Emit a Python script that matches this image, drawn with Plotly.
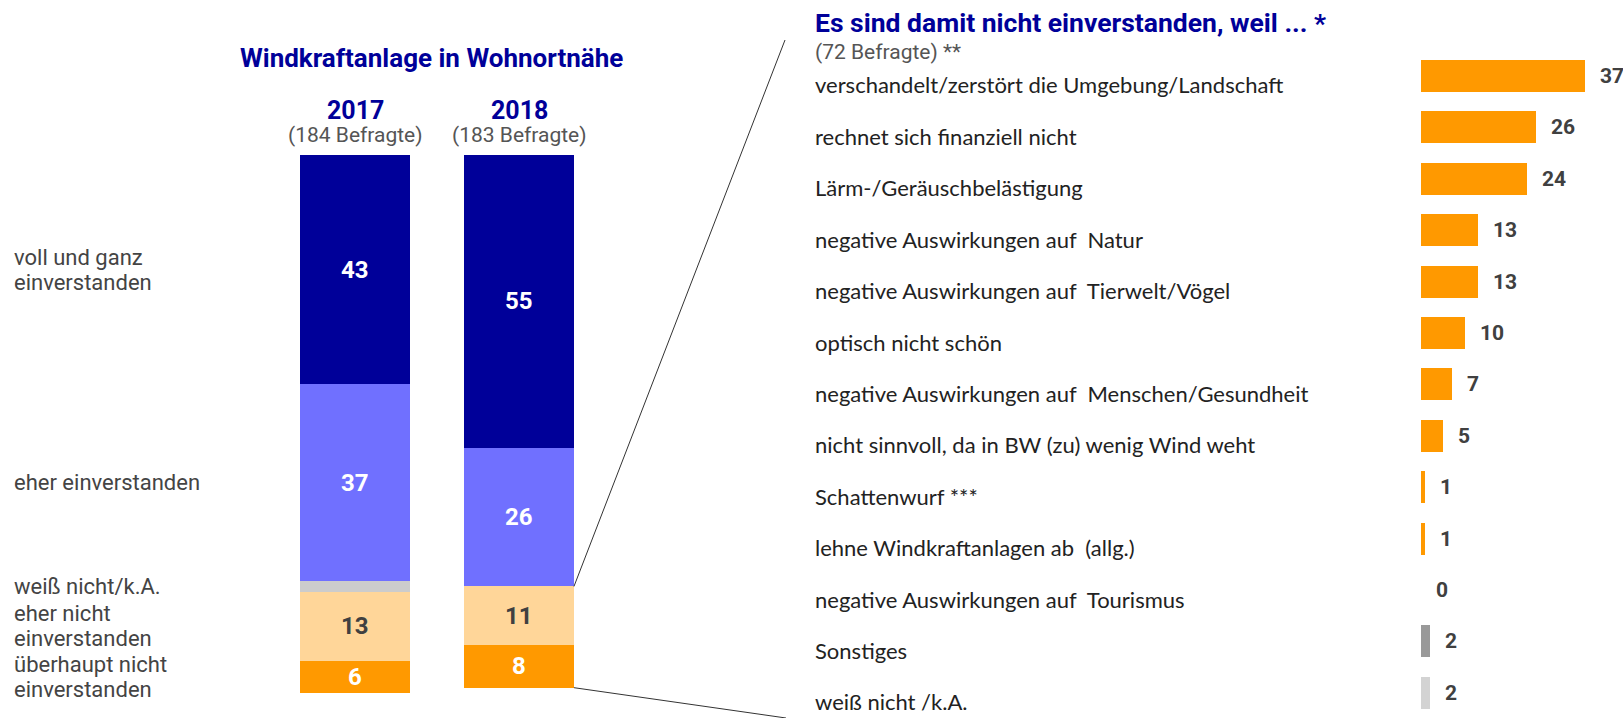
import plotly.graph_objects as go

W, H = 1623, 718

# ---------------- data ----------------
years = ["2017", "2018"]
respondents = ["(184 Befragte)", "(183 Befragte)"]
segment_lines = [
    ["voll und ganz", "einverstanden"],
    ["eher einverstanden"],
    ["weiß nicht/k.A."],
    ["eher nicht", "einverstanden"],
    ["überhaupt nicht", "einverstanden"],
]
values_2017 = [43, 37, 2, 13, 6]
values_2018 = [55, 26, 0, 11, 8]
show_value = [True, True, False, True, True]

reasons = [
    "verschandelt/zerstört die Umgebung/Landschaft",
    "rechnet sich finanziell nicht",
    "Lärm-/Geräuschbelästigung",
    "negative Auswirkungen auf  Natur",
    "negative Auswirkungen auf  Tierwelt/Vögel",
    "optisch nicht schön",
    "negative Auswirkungen auf  Menschen/Gesundheit",
    "nicht sinnvoll, da in BW (zu) wenig Wind weht",
    "Schattenwurf ***",
    "lehne Windkraftanlagen ab  (allg.)",
    "negative Auswirkungen auf  Tourismus",
    "Sonstiges",
    "weiß nicht /k.A.",
]
reason_values = [37, 26, 24, 13, 13, 10, 7, 5, 1, 1, 0, 2, 2]

# ---------------- styles ----------------
seg_colors = ["#000099", "#7070FF", "#CCCCCC", "#FFD699", "#FF9900"]
seg_text_colors = ["#FFFFFF", "#FFFFFF", "#FFFFFF", "#404040", "#FFFFFF"]
reason_colors = ["#FF9900"] * 11 + ["#999999", "#D3D3D3"]
NAVY = "#000099"
DIN = "Roboto"
CAL = "Lato"

# layout geometry (pixels)
LX0, LX1 = 273, 601        # left x-domain
LY0, LY1 = 155, 693        # left y-domain (top, bottom)
LYMAX = 101
RX0, RXMAX, RPX = 1421, 45, 4.42
RY_TOP = 50.3
LINE_GAP = 25


def px(x):
    return x / W


def py(y):
    return 1 - y / H


def left_x_px(i):
    return LX0 + (LX1 - LX0) / 2 * (i + 0.5)


def left_y_px(v):
    return LY0 + v * (LY1 - LY0) / LYMAX


fig = go.Figure()

data_by_year = [values_2017, values_2018]
for s in range(len(segment_lines)):
    vals = [data_by_year[0][s], data_by_year[1][s]]
    fig.add_trace(go.Bar(
        x=[0, 1], y=vals, width=0.67,
        marker=dict(color=seg_colors[s], line=dict(width=0)),
        xaxis="x", yaxis="y", showlegend=False, hoverinfo="skip",
    ))

fig.add_trace(go.Bar(
    x=reason_values, y=reasons, orientation="h", width=0.62,
    marker=dict(color=reason_colors, line=dict(width=0)),
    xaxis="x2", yaxis="y2", showlegend=False, hoverinfo="skip",
))

annotations = []
# segment values
for i, vals in enumerate(data_by_year):
    cum = 0
    for s, v in enumerate(vals):
        mid = cum + v / 2
        cum += v
        if show_value[s] and v > 0:
            annotations.append(dict(
                text="<b>%d</b>" % v, xref="x", yref="y", x=i, y=mid,
                xanchor="center", yanchor="middle", showarrow=False,
                font=dict(family=DIN, size=24, color=seg_text_colors[s])))

# left title
annotations.append(dict(
    text="<b>Windkraftanlage in Wohnortnähe</b>", xref="paper", yref="paper",
    x=px(431), y=py(58), xanchor="center", yanchor="middle", showarrow=False,
    font=dict(family=DIN, size=26, color=NAVY)))
# year headers
for i, (yr, rsp) in enumerate(zip(years, respondents)):
    annotations.append(dict(
        text="<b>%s</b>" % yr, xref="x", yref="paper", x=i, y=py(110),
        xanchor="center", yanchor="middle", showarrow=False,
        font=dict(family=DIN, size=25, color=NAVY)))
    annotations.append(dict(
        text=rsp, xref="x", yref="paper", x=i, y=py(135),
        xanchor="center", yanchor="middle", showarrow=False,
        font=dict(family=DIN, size=21, color="#555555")))
# left segment labels anchored to 2017 segment mid-points
cum = 0
for s, lines in enumerate(segment_lines):
    mid = cum + values_2017[s] / 2
    cum += values_2017[s]
    n = len(lines)
    for k, ln in enumerate(lines):
        shift = (n - 1) * LINE_GAP / 2 - k * LINE_GAP
        annotations.append(dict(
            text=ln, xref="paper", yref="y", x=px(12), y=mid, yshift=shift,
            xanchor="left", yanchor="middle", showarrow=False,
            font=dict(family=DIN, size=22, color="#444444")))

# right title
annotations.append(dict(
    text="<b>Es sind damit nicht einverstanden, weil ... *</b>", xref="paper", yref="paper",
    x=px(813), y=py(23), xanchor="left", yanchor="middle", showarrow=False,
    font=dict(family=DIN, size=26.5, color=NAVY)))
annotations.append(dict(
    text="(72 Befragte) **", xref="paper", yref="paper",
    x=px(813), y=py(52), xanchor="left", yanchor="middle", showarrow=False,
    font=dict(family=DIN, size=21, color="#555555")))
for r, v in zip(reasons, reason_values):
    annotations.append(dict(
        text=r, xref="paper", yref="y2", x=px(813), y=r, yshift=-9,
        xanchor="left", yanchor="middle", showarrow=False,
        font=dict(family=CAL, size=22, color="#222222")))
    annotations.append(dict(
        text="<b>%d</b>" % v, xref="x2", yref="y2", x=v, y=r, xshift=13,
        xanchor="left", yanchor="middle", showarrow=False,
        font=dict(family=DIN, size=21, color="#404040")))

# connector lines from the 2018 "not agreed" part to the right panel
x_edge = left_x_px(1) + 0.67 / 2 * (LX1 - LX0) / 2
top_not = values_2018[0] + values_2018[1] + values_2018[2]
bottom_not = sum(values_2018)
shapes = [
    dict(type="line", xref="paper", yref="paper",
         x0=px(x_edge), y0=py(left_y_px(top_not)), x1=px(785), y1=py(40),
         line=dict(color="#333333", width=1)),
    dict(type="line", xref="paper", yref="paper",
         x0=px(x_edge), y0=py(left_y_px(bottom_not)), x1=px(786), y1=py(718),
         line=dict(color="#333333", width=1)),
]

fig.update_layout(
    width=W, height=H, margin=dict(l=0, r=0, t=0, b=0),
    paper_bgcolor="white", plot_bgcolor="white",
    barmode="stack",
    xaxis=dict(domain=[px(LX0), px(LX1)], range=[-0.5, 1.5],
               visible=False, fixedrange=True),
    yaxis=dict(domain=[py(LY1), py(LY0)], range=[LYMAX, 0], visible=False, fixedrange=True),
    xaxis2=dict(domain=[px(RX0), px(RX0 + RXMAX * RPX)], range=[0, RXMAX],
                visible=False, anchor="y2", fixedrange=True),
    yaxis2=dict(domain=[0, py(RY_TOP)], range=[12.49, -0.5], type="category",
                categoryorder="array", categoryarray=reasons,
                visible=False, anchor="x2", fixedrange=True),
    annotations=annotations,
    shapes=shapes,
    showlegend=False,
)

fig.write_html("out.html", config={"displayModeBar": False},
               post_script="document.body.style.margin='0';document.body.style.overflow='hidden';")
